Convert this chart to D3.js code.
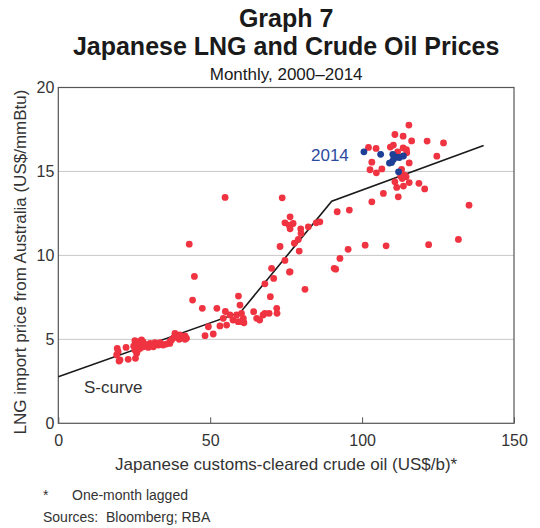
<!DOCTYPE html>
<html lang="en">
<head>
<meta charset="utf-8">
<title>Graph 7</title>
<script src="https://cdn.jsdelivr.net/npm/d3@7"></script>
<style>
body { margin: 0; background: #fff; }
svg { font-family: "Liberation Sans", Arial, sans-serif; }
.title { font-weight: bold; font-size: 25px; fill: #1a1a1a; }
.sub { font-size: 17px; fill: #1a1a1a; }
.tick-label { font-size: 16px; fill: #333; }
.axis-title { font-size: 17px; fill: #333; }
.note { font-size: 14px; fill: #333; }
.grid { stroke: #c8c8c8; stroke-width: 1; }
.frame { fill: none; stroke: #555; stroke-width: 1.2; }
</style>
</head>
<body>
<script>
// LNG vs crude oil, monthly 2000-2014
var oilRed = [
  19.4, 19.7, 19.2, 20.3, 20.0, 22.3, 23.0, 25.2, 25.4, 25.8, 26.3, 26.9, 27.4, 25.2, 25.8, 26.9,
  28.0, 29.1, 29.6, 30.2, 31.3, 31.8, 32.9, 34.0, 34.5, 36.7, 37.3, 38.4, 39.5, 40.0, 40.6, 41.7,
  42.2, 39.8, 36.7, 27.9, 28.5, 30.8, 33.5, 24.8, 26.0, 35.5, 38.0, 41.7,
  44.8, 44.2, 47.4, 48.3, 49.4, 51.0, 52.2, 53.2, 54.3, 55.0, 55.4, 56.5, 57.5, 58.7, 59.3, 59.8,
  60.3, 59.2, 60.9, 61.1, 60.4, 64.3, 65.3, 66.3, 67.4, 68.0, 69.4, 69.8, 68.0, 70.2, 70.9, 71.9,
  72.0, 74.6, 76.1, 81.2, 54.9, 43.1,
  73.7, 76.3, 74.6, 76.0, 77.3, 76.3, 79.8, 79.9, 82.3, 84.9, 86.1, 79.0, 77.7, 73.0, 79.3, 76.3,
  91.8, 95.8, 95.4, 92.7, 90.8, 91.3, 101.0, 107.9, 121.9, 131.7, 135.2, 103.2, 107.0, 111.9,
  102.1, 104.6, 103.2, 102.6, 104.7, 106.5, 109.3, 110.3, 110.8, 113.5, 115.4, 116.3, 121.4, 126.8,
  124.6, 115.5, 113.5, 114.6, 114.7, 111.7, 113.0, 114.0, 113.2, 110.8, 111.4, 113.6, 115.5, 118.7,
  120.6, 112.7, 114.5
];
var lngRed = [
  4.46, 4.27, 4.07, 3.77, 3.71, 4.52, 3.81, 4.92, 3.87, 4.56, 4.86, 4.72, 4.96, 4.37, 4.17, 4.46,
  4.56, 4.66, 4.52, 4.76, 4.56, 4.80, 4.66, 4.70, 4.66, 4.86, 4.96, 5.36, 5.20, 5.26, 5.12, 5.20,
  5.06, 5.00, 4.76, 4.85, 4.70, 4.62, 4.80, 4.60, 4.30, 4.72, 5.10, 5.00,
  8.75, 7.34, 6.85, 5.22, 5.75, 5.32, 6.85, 5.80, 6.25, 6.66, 5.85, 6.45, 6.15, 6.45, 7.58, 7.04,
  6.55, 6.05, 6.25, 5.99, 6.05, 6.65, 6.25, 6.15, 6.45, 6.55, 6.55, 7.54, 8.31, 9.23, 8.63, 6.85,
  6.55, 9.70, 9.01, 7.98, 13.45, 10.67,
  13.43, 12.30, 11.94, 11.80, 11.90, 11.58, 11.58, 11.31, 11.70, 11.94, 12.00, 10.95, 10.73, 10.53, 10.26, 9.02,
  12.60, 12.70, 10.36, 9.82, 9.23, 9.18, 10.61, 10.57, 10.64, 10.95, 12.99, 13.19, 13.69, 13.49,
  16.43, 16.37, 15.55, 15.10, 14.92, 15.15, 16.45, 16.57, 17.20, 17.10, 17.76, 16.82, 16.81, 16.70,
  15.91, 15.51, 16.40, 16.30, 16.11, 16.17, 15.12, 14.78, 14.58, 14.38, 14.05, 14.13, 14.34, 14.29,
  13.96, 14.72, 14.68
];
var oilBlue = [100.6, 106.1, 110.1, 111.4, 112.3, 109.7, 109.0, 113.6, 110.3, 112.0];
var lngBlue = [16.17, 16.02, 16.02, 15.85, 15.83, 15.54, 15.50, 15.92, 15.71, 14.98];

// S-curve breakpoints
var curveOil = [0, 60, 90, 140];
var curveLng = [2.77, 6.62, 13.23, 16.55];

var xTicks = [0, 50, 100, 150];
var yTicks = [0, 5, 10, 15, 20];

var W = 540, H = 528;
var margin = { top: 87.5, right: 26, bottom: 104.7, left: 58.3 };
var pw = W - margin.left - margin.right,
    ph = H - margin.top - margin.bottom;

var svg = d3.select('body').append('svg')
  .attr('width', W)
  .attr('height', H);

var x = d3.scaleLinear().domain([0, 150]).range([margin.left, margin.left + pw]);
var y = d3.scaleLinear().domain([0, 20]).range([margin.top + ph, margin.top]);

// titles
var cx = margin.left + pw / 2;
svg.append('text').attr('class', 'title').attr('x', cx).attr('y', 27)
  .attr('text-anchor', 'middle').text('Graph 7');
svg.append('text').attr('class', 'title').attr('x', cx).attr('y', 55)
  .attr('text-anchor', 'middle').text('Japanese LNG and Crude Oil Prices');
svg.append('text').attr('class', 'sub').attr('x', cx).attr('y', 80)
  .attr('text-anchor', 'middle').text('Monthly, 2000–2014');

// gridlines
svg.append('g').selectAll('line')
  .data(yTicks.slice(1, -1))
  .enter().append('line')
  .attr('class', 'grid')
  .attr('x1', x(0)).attr('x2', x(150))
  .attr('y1', function(d) { return y(d); })
  .attr('y2', function(d) { return y(d); });

// x axis, ticks pointing inwards
var xAxis = d3.axisBottom(x).tickValues(xTicks).tickSize(-6).tickSizeOuter(0).tickFormat(d3.format('d'));
var gx = svg.append('g')
  .attr('transform', 'translate(0,' + y(0) + ')')
  .call(xAxis);
gx.select('.domain').remove();
gx.selectAll('.tick line').attr('stroke', '#555');
gx.selectAll('.tick text').attr('class', 'tick-label').attr('y', 11).attr('dy', '0.71em')
  .attr('fill', null).attr('font-size', null).attr('font-family', null);

// y axis labels
var yAxis = d3.axisLeft(y).tickValues(yTicks).tickSize(0).tickPadding(4).tickFormat(d3.format('d'));
var gy = svg.append('g')
  .attr('transform', 'translate(' + x(0) + ',0)')
  .call(yAxis);
gy.select('.domain').remove();
gy.selectAll('.tick text').attr('class', 'tick-label')
  .attr('fill', null).attr('font-size', null).attr('font-family', null);
gx.attr('font-size', null).attr('font-family', null);
gy.attr('font-size', null).attr('font-family', null);

// frame
svg.append('rect').attr('class', 'frame')
  .attr('x', x(0)).attr('y', y(20))
  .attr('width', x(150) - x(0)).attr('height', y(0) - y(20));

// S-curve
var curve = d3.line()
  .x(function(d) { return x(d); })
  .y(function(d, i) { return y(curveLng[i]); });
svg.append('path')
  .datum(curveOil)
  .attr('d', curve)
  .attr('fill', 'none')
  .attr('stroke', '#1a1a1a')
  .attr('stroke-width', 1.6);

// dots
svg.append('g').selectAll('circle')
  .data(oilRed)
  .enter().append('circle')
  .attr('cx', function(d) { return x(d); })
  .attr('cy', function(d, i) { return y(lngRed[i]); })
  .attr('r', 3.4)
  .attr('fill', '#ef3340');

svg.append('g').selectAll('circle')
  .data(oilBlue)
  .enter().append('circle')
  .attr('cx', function(d) { return x(d); })
  .attr('cy', function(d, i) { return y(lngBlue[i]); })
  .attr('r', 3.4)
  .attr('fill', '#1d3f96');

// annotations
svg.append('text').attr('class', 'axis-title').attr('x', 84).attr('y', 393).text('S-curve');
svg.append('text').attr('class', 'axis-title').attr('x', 311).attr('y', 161)
  .style('fill', '#2b4a9e').text('2014');

// axis titles
svg.append('text').attr('class', 'axis-title')
  .attr('x', cx).attr('y', 470).attr('text-anchor', 'middle')
  .text('Japanese customs-cleared crude oil (US$/b)*');
svg.append('text').attr('class', 'axis-title')
  .attr('transform', 'translate(26,262) rotate(-90)')
  .attr('text-anchor', 'middle')
  .text('LNG import price from Australia (US$/mmBtu)');

// notes
svg.append('text').attr('class', 'note').attr('x', 43).attr('y', 500).text('*');
svg.append('text').attr('class', 'note').attr('x', 72).attr('y', 500).text('One-month lagged');
svg.append('text').attr('class', 'note').attr('x', 43).attr('y', 522)
  .attr('xml:space', 'preserve').style('white-space', 'pre').text('Sources:  Bloomberg; RBA');
</script>
</body>
</html>
